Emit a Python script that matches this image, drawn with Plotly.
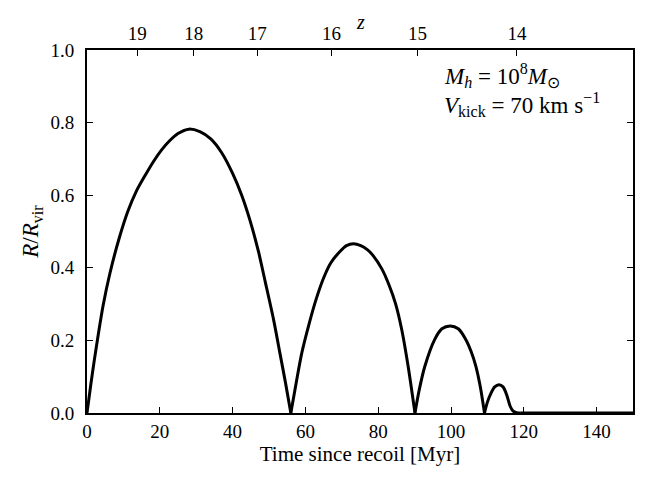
import plotly.graph_objects as go

# Time since recoil [Myr] and R/R_vir
time_myr = [0, 1, 2, 3, 4.4, 6.3, 8.8, 11.2, 13.5, 16, 18.4, 20.5, 22.5, 25, 28,
            31, 34, 37, 40, 42.5, 44.8, 47.1, 49, 51.2, 53, 54.5, 56,
            57.5, 59, 61, 63, 65, 67, 69.5, 71.3, 73.2, 75.2, 77, 78.5, 81, 83, 84.8, 86.5, 88.2, 90.1,
            91.3, 92.8, 95.5, 97.5, 99.8, 102, 104.2, 105.5, 106.8, 108, 109.2,
            110, 111, 112, 113.2, 114.3, 115.3, 116.2, 117, 118, 119, 150]
r_over_rvir = [0, 0.075, 0.145, 0.21, 0.295, 0.385, 0.48, 0.555, 0.61, 0.655, 0.695, 0.725, 0.748, 0.77, 0.782,
               0.775, 0.755, 0.717, 0.66, 0.6, 0.53, 0.445, 0.36, 0.26, 0.165, 0.085, 0,
               0.085, 0.165, 0.245, 0.315, 0.372, 0.414, 0.445, 0.461, 0.466, 0.461, 0.45, 0.435, 0.397, 0.352, 0.3, 0.228, 0.13, 0,
               0.065, 0.128, 0.202, 0.232, 0.24, 0.232, 0.2, 0.17, 0.13, 0.075, 0,
               0.03, 0.055, 0.072, 0.078, 0.072, 0.05, 0.02, 0.006, 0.001, 0, 0]

x_ticks = [0, 20, 40, 60, 80, 100, 120, 140]
y_ticks = [0.0, 0.2, 0.4, 0.6, 0.8, 1.0]
# Redshift tick positions (in Myr since recoil) and labels for the top axis
z_tick_pos = [13.8, 29.3, 46.8, 67.2, 90.8, 118.1]
z_tick_labels = ["19", "18", "17", "16", "15", "14"]

FONT = "Liberation Serif"

fig = go.Figure()

# draw each bounce (between successive zero touches) as a smooth segment
zero_idx = [i for i, v in enumerate(r_over_rvir) if v == 0]
for a, b in zip(zero_idx[:-1], zero_idx[1:]):
    fig.add_trace(go.Scatter(x=time_myr[a:b + 1], y=r_over_rvir[a:b + 1], mode="lines",
                             line=dict(color="black", width=3, shape="spline", smoothing=0.8),
                             showlegend=False, xaxis="x", yaxis="y"))

# invisible trace to activate top axis
fig.add_trace(go.Scatter(x=[0, 150], y=[0, 0], mode="lines", line=dict(width=0),
                         opacity=0, showlegend=False, hoverinfo="skip",
                         xaxis="x2", yaxis="y"))

fig.update_layout(
    width=638, height=469,
    margin=dict(l=79, r=13, t=42, b=64),
    paper_bgcolor="white", plot_bgcolor="white",
    font=dict(family=FONT, size=18, color="black"),
    xaxis=dict(range=[0, 150], tickvals=x_ticks, ticks="inside", ticklen=6, tickwidth=1,
               tickcolor="black", showline=True, linecolor="black", linewidth=2,
               mirror=True, showgrid=False, zeroline=False, automargin=False,
               tickfont=dict(family=FONT, size=19),
               title=dict(text="Time since recoil [Myr]", font=dict(family=FONT, size=21),
                          standoff=2)),
    xaxis2=dict(range=[0, 150], overlaying="x", side="top", tickvals=z_tick_pos,
                ticktext=z_tick_labels, ticks="inside", ticklen=6, tickwidth=1,
                tickcolor="black", showline=False, showgrid=False, zeroline=False,
                automargin=False, tickfont=dict(family=FONT, size=19), ticklabelstandoff=5),
    yaxis=dict(range=[0, 1.0], tickvals=y_ticks, tickformat=".1f", ticks="inside",
               ticklen=6, tickwidth=1, tickcolor="black", showline=True,
               linecolor="black", linewidth=2, mirror="ticks", showgrid=False,
               zeroline=False, automargin=False, tickfont=dict(family=FONT, size=19),
               ticklabelstandoff=7,
               title=dict(text="<i>R</i>/<i>R</i><sub>vir</sub>",
                          font=dict(family=FONT, size=23), standoff=5)),
    annotations=[
        dict(x=0.5, y=1.078, xref="paper", yref="paper", xanchor="center", yanchor="middle",
             showarrow=False, text="<i>z</i>", font=dict(family=FONT, size=20)),
        dict(x=0.65, y=0.93, xref="paper", yref="paper", xanchor="left", yanchor="middle",
             showarrow=False, align="left",
             text="<i>M<sub>h</sub></i> = 10<sup>8</sup><i>M</i><sub>⊙</sub>",
             font=dict(family=FONT, size=23)),
        dict(x=0.65, y=0.85, xref="paper", yref="paper", xanchor="left", yanchor="middle",
             showarrow=False, align="left",
             text="<i>V</i><sub>kick</sub> = 70 km s<sup>−1</sup>",
             font=dict(family=FONT, size=23)),
    ],
)

fig.write_html("out.html")
